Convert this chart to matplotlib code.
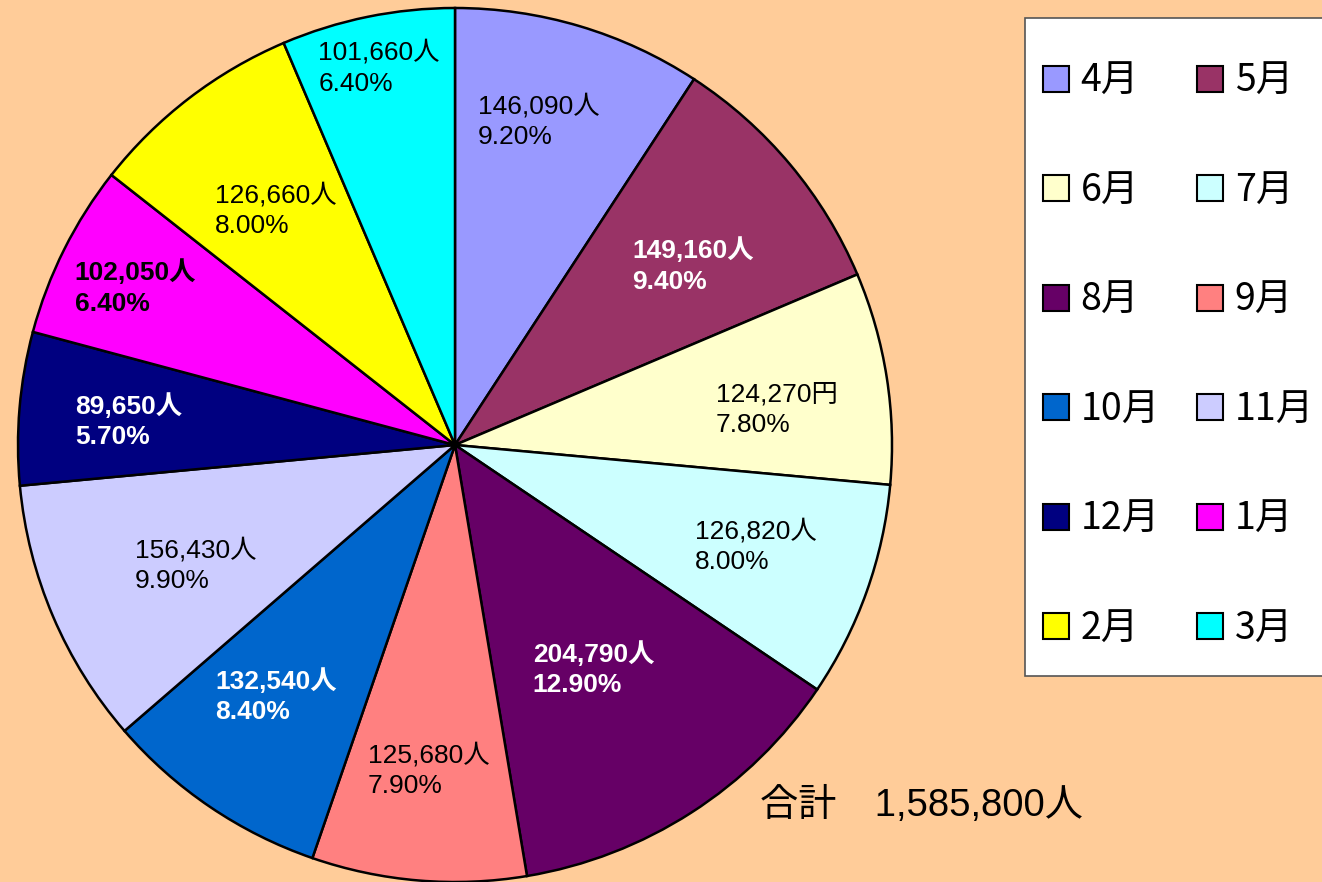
import matplotlib
matplotlib.use("Agg")
import matplotlib.pyplot as plt
from matplotlib.patches import Patch, Rectangle

# --- data ---
months = ["4月", "5月", "6月", "7月", "8月", "9月", "10月", "11月", "12月", "1月", "2月", "3月"]
visitors = [146090, 149160, 124270, 126820, 204790, 125680, 132540, 156430, 89650, 102050, 126660, 101660]
units = ["人", "人", "円", "人", "人", "人", "人", "人", "人", "人", "人", "人"]
pct_labels = ["9.20%", "9.40%", "7.80%", "8.00%", "12.90%", "7.90%", "8.40%", "9.90%", "5.70%", "6.40%", "8.00%", "6.40%"]
total_label = "合計　1,585,800人"

# --- style ---
colors = ["#9999FF", "#993366", "#FFFFCC", "#CCFFFF", "#660066", "#FF8080",
          "#0066CC", "#CCCCFF", "#000080", "#FF00FF", "#FFFF00", "#00FFFF"]
text_colors = ["black", "white", "black", "black", "white", "black",
               "white", "black", "white", "black", "black", "black"]
text_weights = ["normal", "bold", "normal", "normal", "bold", "normal",
                "bold", "normal", "bold", "bold", "normal", "normal"]
# label anchor (left edge, vertical middle) in pie units (radius = 1)
label_pos = [(0.053, 0.741), (0.405, 0.410), (0.597, 0.080), (0.549, -0.231),
             (0.178, -0.513), (-0.199, -0.744), (-0.549, -0.575), (-0.732, -0.276),
             (-0.870, 0.055), (-0.870, 0.360), (-0.549, 0.537), (-0.313, 0.863)]

BG = "#FFCC99"
FONTS = ["Liberation Sans", "Noto Sans CJK JP"]
plt.rcParams["font.family"] = FONTS

W, H = 1322, 882
fig = plt.figure(figsize=(W / 100, H / 100), dpi=100)
fig.patch.set_facecolor(BG)

# pie centre at (455, 445) px, radius 437 px
cx, cy, r = 455, 445, 437
ax = fig.add_axes([(cx - r) / W, (H - cy - r) / H, 2 * r / W, 2 * r / H])
ax.set_facecolor(BG)
ax.axis("off")

wedges, _ = ax.pie(visitors, colors=colors, startangle=90, counterclock=False,
                   radius=1.0, wedgeprops=dict(edgecolor="black", linewidth=1.8))
ax.set_xlim(-1, 1)
ax.set_ylim(-1, 1)
ax.set_aspect("equal")

for i in range(len(months)):
    txt = f"{visitors[i]:,}{units[i]}\n{pct_labels[i]}"
    x, y = label_pos[i]
    ax.text(x, y, txt, ha="left", va="center", fontsize=19, color=text_colors[i],
            fontweight=text_weights[i], linespacing=1.35)

fig.text(760 / W, 1 - 805 / H, total_label, ha="left", va="center", fontsize=27.5)

# legend box drawn separately so the padding can match the original
fig.patches.append(Rectangle((1025 / W, 1 - 676 / H), 330 / W, (676 - 18) / H,
                             transform=fig.transFigure, facecolor="white",
                             edgecolor="#555555", linewidth=1.2, zorder=1))

# legend, filled row-wise like the original (matplotlib fills column-first)
handles = [Patch(facecolor=c, edgecolor="black", linewidth=1.5) for c in colors]
order = [0, 2, 4, 6, 8, 10, 1, 3, 5, 7, 9, 11]
leg = fig.legend([handles[i] for i in order], [months[i] for i in order],
                 loc="upper left", bbox_to_anchor=(1043 / W, 1 - 62 / H),
                 ncol=2, frameon=False, borderpad=0, borderaxespad=0,
                 handlelength=0.68, handleheight=0.68, handletextpad=0.32,
                 columnspacing=1.0, labelspacing=1.88,
                 prop={"family": ["Noto Sans CJK JP"], "size": 27})
leg.set_zorder(2)

fig.savefig("out.png", dpi=100, facecolor=BG)
